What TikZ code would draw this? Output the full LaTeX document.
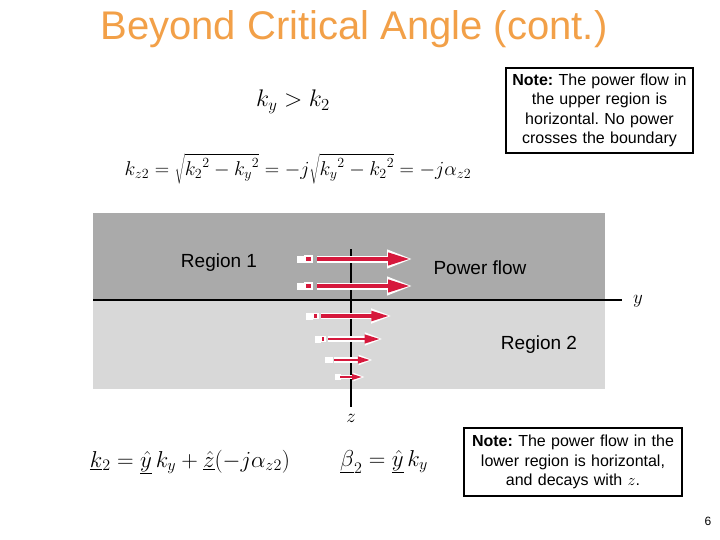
\RequirePackage{fix-cm}
\documentclass[tikz,border=0pt]{standalone}
\usepackage{fontspec}
\setmainfont{Liberation Sans}
\usepackage{tikz}
\usetikzlibrary{positioning,arrows.meta}
\definecolor{titleorange}{RGB}{242,160,72}
\definecolor{uppergray}{RGB}{170,170,170}
\definecolor{lowergray}{RGB}{216,216,216}
\definecolor{flowred}{RGB}{214,24,60}

\begin{document}
\begin{tikzpicture}[
		x=1pt, y=-1pt,
		note/.style={
			draw,
			line width=1.5pt,
			fill=white,
			align=center,
			font=\fontsize{16}{19.5}\selectfont\frenchspacing,
			inner sep=3.5pt
		},
		regionlbl/.style={font=\fontsize{19}{22}\selectfont},
		eqn/.style={font=\fontsize{23}{27}\selectfont},
		axis/.style={line width=1.5pt},
		flow/.style={
			draw=flowred,
			line width=#1*4pt,
			-{Triangle[length=22pt,width=12pt,scale=#1]},
			preaction={draw=white,line width=#1*4pt+3pt,
				-{Triangle[length=26pt,width=17pt,scale=#1]},shorten >=-3pt}
		},
		tailbox/.style={fill=flowred,draw=white,line width=1.2pt}
		]
		
		\useasboundingbox (0,0) rectangle (720,540);
		
		\node[font=\fontsize{40}{44}\selectfont,text=titleorange] (title) at (354,29)
		{Beyond Critical Angle (cont.)};
		
		% the two media
		\fill[uppergray] (93,213) rectangle (605,300);
		\fill[lowergray] (93,300) rectangle (605,389);
		
		\coordinate (ystart) at (93,300);
		\coordinate (yend) at (622,300);
		\coordinate (ztop) at (351,249);
		\coordinate (zend) at (351,407);
		\draw[axis] (ystart) -- (yend);
		\draw[axis] (ztop) -- (zend);
		\node[font=\fontsize{19}{22}\selectfont] (ylbl) at (638,301) {$y$};
		\node[font=\fontsize{19}{22}\selectfont] (zlbl) at (351,418) {$z$};
		
		\node[regionlbl] (reg1) at (219,263) {Region 1};
		\node[regionlbl] (reg2) at (539,345) {Region 2};
		\node[regionlbl] (power) at (480,268) {Power flow};
		
		% power flow arrows
		\fill[white] (297,255.5) rectangle (304,262.5);
		\filldraw[tailbox] (300,256.5) rectangle (302,261.5);
		\filldraw[tailbox] (305,256) rectangle (312,262);
		\draw[flow=1] (317,259) -- (410,259);
		\fill[white] (297,282.5) rectangle (304,289.5);
		\filldraw[tailbox] (300,283.5) rectangle (302,288.5);
		\filldraw[tailbox] (305,283) rectangle (312,289);
		\draw[flow=1] (317,286) -- (410,286);
		
		\fill[white] (306,312.5) rectangle (313,319.5);
		\filldraw[tailbox] (313,313.5) rectangle (318,318.5);
		\draw[flow=0.8] (321,316) -- (389,316);
		\fill[white] (315,335.5) rectangle (321,342.5);
		\filldraw[tailbox] (321,336.5) rectangle (325,341.5);
		\draw[flow=0.7] (328,339) -- (380,339);
		\fill[white] (325,357) rectangle (331,363);
		\filldraw[tailbox] (330,358) rectangle (332,362);
		\draw[flow=0.55] (334,360) -- (370,360);
		\fill[white] (335,374) rectangle (341,380);
		\draw[flow=0.45] (340,377) -- (362,377);
		
		% equations
		\node[eqn,font=\fontsize{24}{28}\selectfont] (cond) at (293,102) {$k_y > k_2$};
		\node[eqn,font=\fontsize{20}{24}\selectfont] (kz) at (298,169)
		{$k_{z2}=\sqrt{{k_2}^2-{k_y}^2}=-j\sqrt{{k_y}^2-{k_2}^2}=-j\alpha_{z2}$};
		\node[eqn] (kvec) at (190,462)
		{$\underline{k}_2=\underline{\hat{y}}\,k_y+\underline{\hat{z}}(-j\alpha_{z2})$};
		\node[eqn] (beta) at (384,462)
		{$\underline{\beta}_2=\underline{\hat{y}}\,k_y$};
		
		% notes
		\node[note,text width=180pt,minimum height=85pt] (upnote) at (599.5,110.5)
		{\textbf{Note:} The power flow in\\ the upper region is\\
			horizontal. No power\\ crosses the boundary};
		\node[note,text width=211pt,minimum height=68pt] (lownote) at (573,462)
		{\textbf{Note:} The power flow in the\\ lower region is horizontal,\\
			and decays with $z$.};
		
		\node[font=\fontsize{12}{14}\selectfont] (page) at (708,521) {6};
		
	\end{tikzpicture}
\end{document}
